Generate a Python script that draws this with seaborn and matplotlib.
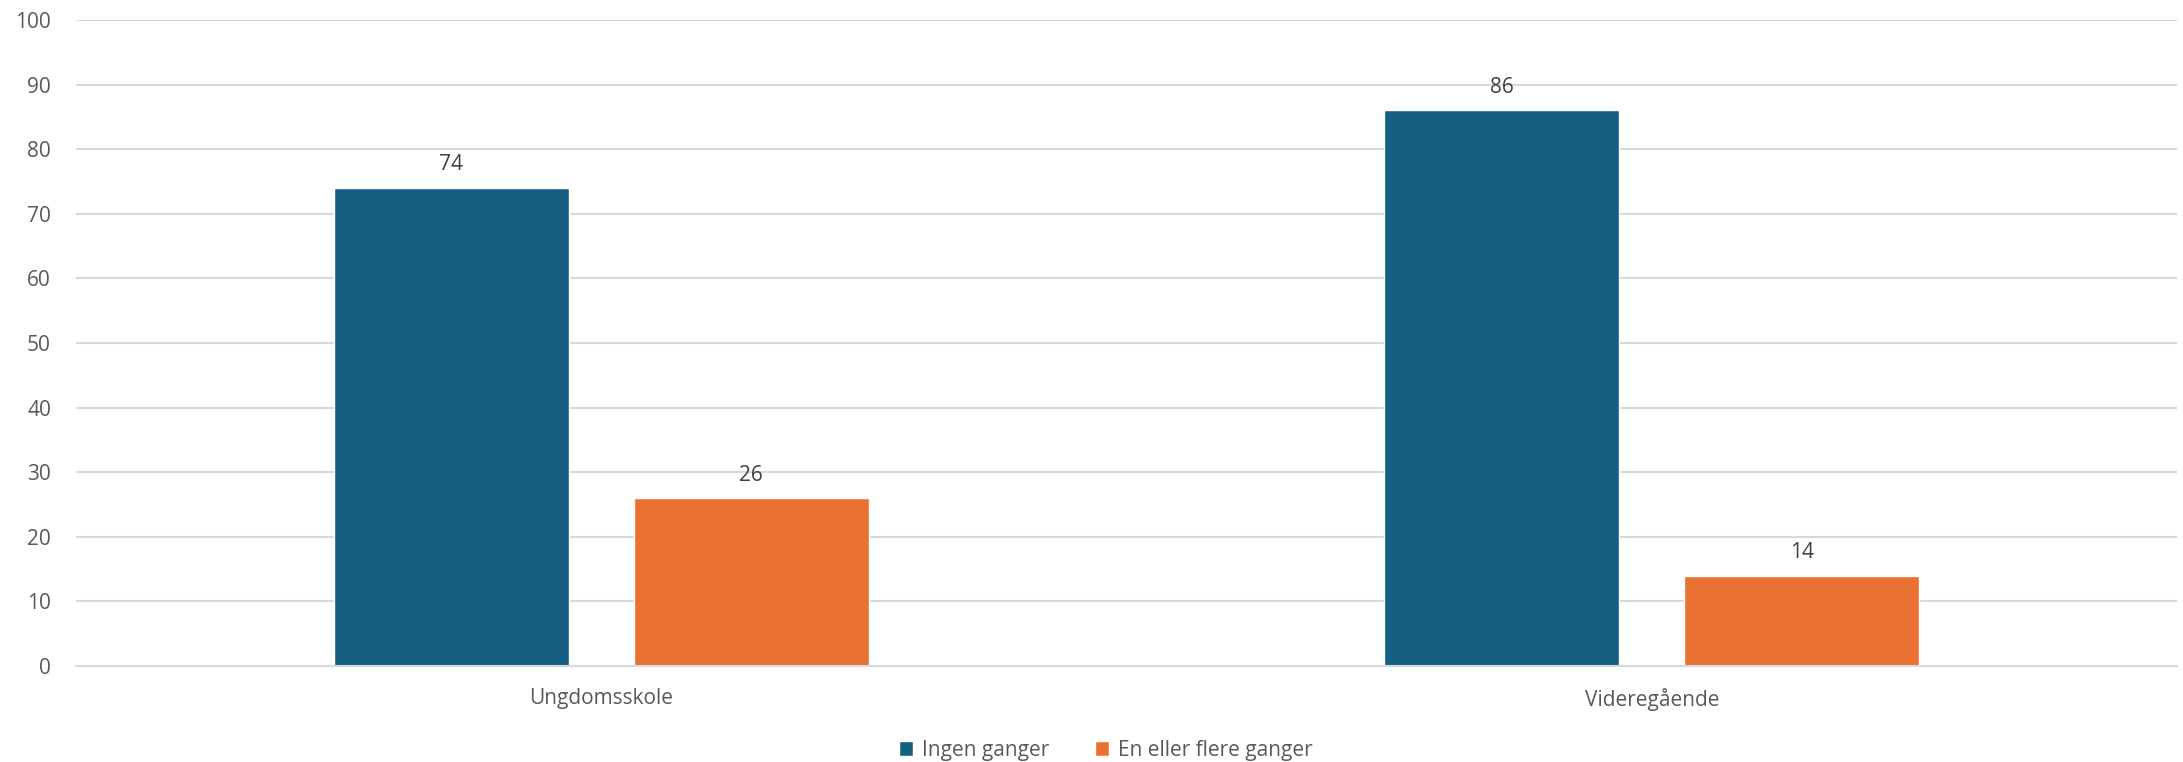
import pandas as pd
import matplotlib.pyplot as plt
import seaborn as sns

# data
categories = ['Ungdomsskole', 'Videregående']
series = ['Ingen ganger', 'En eller flere ganger']
ingen = [74, 86]
flere = [26, 14]
colors = ['#156082', '#E97132']

df = pd.DataFrame({
    'skole': categories * 2,
    'svar': [series[0]] * 2 + [series[1]] * 2,
    'andel': ingen + flere,
})

sns.set_style('white')
plt.rcParams['font.family'] = ['Open Sans', 'DejaVu Sans']

fig = plt.figure(figsize=(21.83, 7.62), dpi=100)
ax = fig.add_axes([0.0348, 0.126, 0.9625, 0.8478])

sns.barplot(data=df, x='skole', y='andel', hue='svar', palette=colors,
            width=0.571, gap=0.217, ax=ax, saturation=1)

# data labels
for cont in ax.containers:
    ax.bar_label(cont, padding=9, fontsize=15, color='#404040')

ax.set_xlim(-0.5, 1.5)
ax.set_ylim(0, 100)
ax.set_yticks(range(0, 101, 10))
ax.yaxis.grid(True, color='#D9D9D9', linewidth=1.5)
ax.set_axisbelow(True)
for s in ['top', 'right', 'left']:
    ax.spines[s].set_visible(False)
ax.spines['bottom'].set_color('#D9D9D9')
ax.spines['bottom'].set_linewidth(1.5)
ax.tick_params(axis='both', length=0, labelsize=15, labelcolor='#595959')
ax.tick_params(axis='y', pad=18)
ax.tick_params(axis='x', pad=16)
ax.set_xlabel('')
ax.set_ylabel('')

handles, labels = ax.get_legend_handles_labels()
ax.legend(handles, labels, loc='upper center', bbox_to_anchor=(0.49, -0.085),
          ncol=2, frameon=False, fontsize=15, labelcolor='#595959',
          handlelength=0.7, handleheight=0.7, handletextpad=0.4,
          columnspacing=2.2)

plt.savefig('out.png', dpi=100)
